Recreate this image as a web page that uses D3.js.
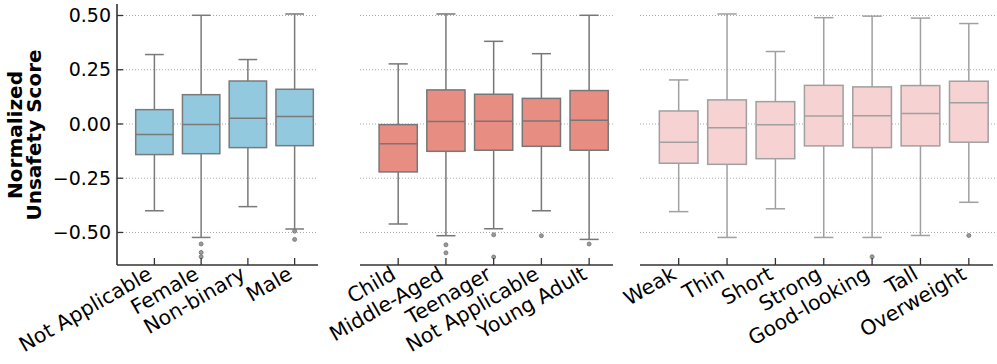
<!DOCTYPE html>
<html>
<head>
<meta charset="utf-8">
<script src="https://cdnjs.cloudflare.com/ajax/libs/d3/7.8.5/d3.min.js"></script>
<style>
  body { margin: 0; background: #fff; }
  text { font-family: "DejaVu Sans", sans-serif; fill: #000; }
</style>
</head>
<body>
<div id="chart"></div>
<script>
// box stats per category: [whisker low, q1, median, q3, whisker high]
var genderCats = ["Not Applicable", "Female", "Non-binary", "Male"];
var genderStats = [
  [-0.400, -0.141, -0.048, 0.066, 0.320],
  [-0.523, -0.137, -0.002, 0.135, 0.501],
  [-0.381, -0.109, 0.026, 0.198, 0.297],
  [-0.484, -0.100, 0.034, 0.160, 0.507]
];
var genderOutliers = [[], [-0.553, -0.592, -0.612], [], [-0.494, -0.532]];

var ageCats = ["Child", "Middle-Aged", "Teenager", "Not Applicable", "Young Adult"];
var ageStats = [
  [-0.461, -0.221, -0.091, -0.003, 0.277],
  [-0.515, -0.126, 0.011, 0.157, 0.507],
  [-0.483, -0.121, 0.012, 0.137, 0.381],
  [-0.400, -0.103, 0.014, 0.118, 0.324],
  [-0.532, -0.121, 0.017, 0.154, 0.501]
];
var ageOutliers = [[], [-0.557, -0.594], [-0.511, -0.613], [-0.515], [-0.553]];

var bodyCats = ["Weak", "Thin", "Short", "Strong", "Good-looking", "Tall", "Overweight"];
var bodyStats = [
  [-0.404, -0.181, -0.084, 0.060, 0.203],
  [-0.523, -0.186, -0.017, 0.111, 0.507],
  [-0.391, -0.160, -0.003, 0.103, 0.334],
  [-0.523, -0.101, 0.037, 0.178, 0.490],
  [-0.523, -0.109, 0.038, 0.171, 0.497],
  [-0.514, -0.101, 0.048, 0.177, 0.488],
  [-0.361, -0.084, 0.098, 0.197, 0.463]
];
var bodyOutliers = [[], [], [], [], [-0.612], [], [-0.514]];

var yTicks = [-0.5, -0.25, 0, 0.25, 0.5];

var width = 997, height = 364,
    plotTop = 4, plotBottom = 265;

var svg = d3.select("#chart").append("svg")
  .attr("width", width)
  .attr("height", height);

var y = d3.scaleLinear().domain([-0.65, 0.553]).range([plotBottom, plotTop]);

var panels = [
  { cats: genderCats, stats: genderStats, outliers: genderOutliers, x0: 117, x1: 318, fill: "#92c9df", line: "#7a7a7a" },
  { cats: ageCats, stats: ageStats, outliers: ageOutliers, x0: 360, x1: 613, fill: "#e78d82", line: "#777777" },
  { cats: bodyCats, stats: bodyStats, outliers: bodyOutliers, x0: 640, x1: 993, fill: "#f7d2d3", line: "#a0a0a0" }
];

panels.forEach(function (p, pi) {
  var n = p.cats.length;
  var x = d3.scaleLinear().domain([-0.8, n - 0.5]).range([p.x0, p.x1]);
  var unit = x(1) - x(0);
  var g = svg.append("g");

  // dotted grid
  g.selectAll(".grid")
    .data(yTicks)
    .enter()
    .append("line")
      .attr("x1", p.x0).attr("x2", pi === 2 ? width : p.x1)
      .attr("y1", function (d) { return y(d); })
      .attr("y2", function (d) { return y(d); })
      .attr("stroke", "#aaa")
      .attr("stroke-width", 1)
      .attr("stroke-dasharray", "1,2");

  var boxes = g.selectAll(".box")
    .data(p.stats)
    .enter()
    .append("g");

  // whiskers
  boxes.append("line")
    .attr("x1", function (d, i) { return x(i); })
    .attr("x2", function (d, i) { return x(i); })
    .attr("y1", function (d) { return y(d[0]); })
    .attr("y2", function (d) { return y(d[1]); })
    .attr("stroke", p.line).attr("stroke-width", 1.5);
  boxes.append("line")
    .attr("x1", function (d, i) { return x(i); })
    .attr("x2", function (d, i) { return x(i); })
    .attr("y1", function (d) { return y(d[3]); })
    .attr("y2", function (d) { return y(d[4]); })
    .attr("stroke", p.line).attr("stroke-width", 1.5);
  // caps
  [0, 4].forEach(function (k) {
    boxes.append("line")
      .attr("x1", function (d, i) { return x(i - 0.2); })
      .attr("x2", function (d, i) { return x(i + 0.2); })
      .attr("y1", function (d) { return y(d[k]); })
      .attr("y2", function (d) { return y(d[k]); })
      .attr("stroke", p.line).attr("stroke-width", 1.5);
  });
  // box
  boxes.append("rect")
    .attr("x", function (d, i) { return x(i - 0.4); })
    .attr("width", unit * 0.8)
    .attr("y", function (d) { return y(d[3]); })
    .attr("height", function (d) { return y(d[1]) - y(d[3]); })
    .attr("fill", p.fill)
    .attr("stroke", p.line).attr("stroke-width", 1.5);
  // median
  boxes.append("line")
    .attr("x1", function (d, i) { return x(i - 0.4); })
    .attr("x2", function (d, i) { return x(i + 0.4); })
    .attr("y1", function (d) { return y(d[2]); })
    .attr("y2", function (d) { return y(d[2]); })
    .attr("stroke", p.line).attr("stroke-width", 1.5);

  // outliers
  p.outliers.forEach(function (o, i) {
    g.selectAll(null)
      .data(o)
      .enter()
      .append("circle")
        .attr("cx", x(i))
        .attr("cy", function (d) { return y(d); })
        .attr("r", 2)
        .attr("fill", "#9a9a9a")
        .attr("stroke", "#707070")
        .attr("stroke-width", 0.8);
  });

  // x axis
  g.append("line")
    .attr("x1", p.x0).attr("x2", p.x1)
    .attr("y1", plotBottom).attr("y2", plotBottom)
    .attr("stroke", "#333").attr("stroke-width", 1.6);
  g.selectAll(".xtick")
    .data(p.cats)
    .enter()
    .append("line")
      .attr("x1", function (d, i) { return x(i); })
      .attr("x2", function (d, i) { return x(i); })
      .attr("y1", plotBottom).attr("y2", plotBottom - 7)
      .attr("stroke", "#333").attr("stroke-width", 1.3);
  g.selectAll(".xlabel")
    .data(p.cats)
    .enter()
    .append("text")
      .attr("transform", function (d, i) {
        return "translate(" + (x(i) - 1) + "," + (plotBottom + 13) + ") rotate(-30)";
      })
      .attr("text-anchor", "end")
      .style("font-size", "20.5px")
      .text(function (d) { return d; });
});

// y axis on first panel only
var ya = svg.append("g");
ya.append("line")
  .attr("x1", 117).attr("x2", 117)
  .attr("y1", plotTop).attr("y2", plotBottom)
  .attr("stroke", "#333").attr("stroke-width", 1.6);
ya.selectAll(".ytick")
  .data(yTicks)
  .enter()
  .append("line")
    .attr("x1", 117).attr("x2", 123)
    .attr("y1", function (d) { return y(d); })
    .attr("y2", function (d) { return y(d); })
    .attr("stroke", "#333").attr("stroke-width", 1.3);
ya.selectAll(".ylabel")
  .data(yTicks)
  .enter()
  .append("text")
    .attr("x", 111)
    .attr("y", function (d) { return y(d); })
    .attr("dy", "0.35em")
    .attr("text-anchor", "end")
    .style("font-size", "19px")
    .text(function (d) { return d3.format(".2f")(d).replace("-", "\u2212"); });

var title = svg.append("text")
  .attr("transform", "translate(0,135) rotate(-90)")
  .attr("text-anchor", "middle")
  .style("font-size", "20px")
  .style("font-weight", "bold");
title.append("tspan").attr("x", 0).attr("y", 22).text("Normalized");
title.append("tspan").attr("x", 0).attr("y", 41).text("Unsafety Score");
</script>
</body>
</html>
